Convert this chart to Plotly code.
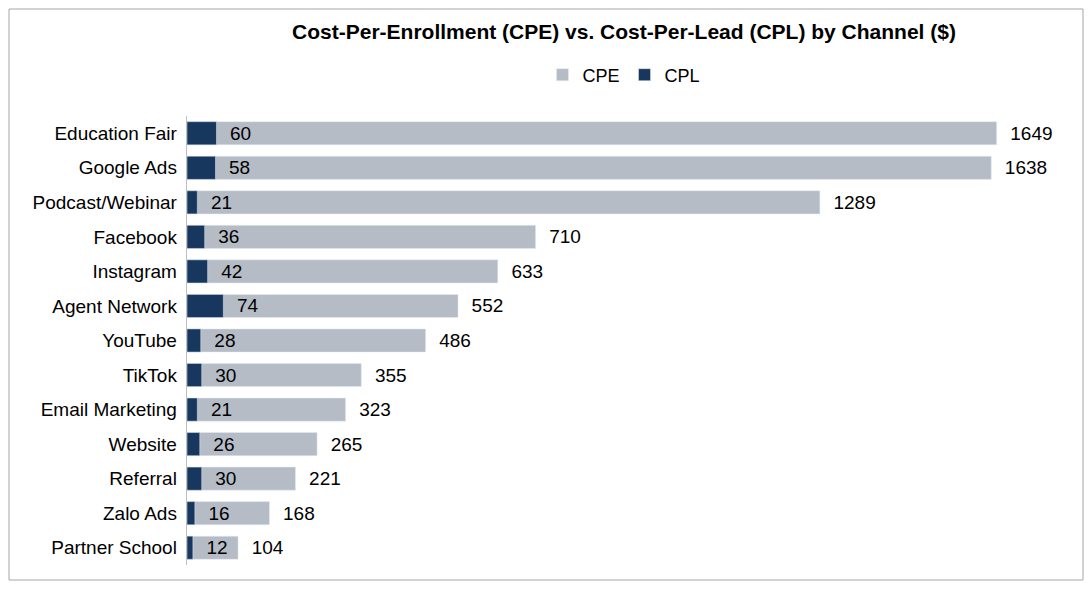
import plotly.graph_objects as go

channels = ["Education Fair", "Google Ads", "Podcast/Webinar", "Facebook", "Instagram",
            "Agent Network", "YouTube", "TikTok", "Email Marketing", "Website",
            "Referral", "Zalo Ads", "Partner School"]
cpe = [1649, 1638, 1289, 710, 633, 552, 486, 355, 323, 265, 221, 168, 104]
cpl = [60, 58, 21, 36, 42, 74, 28, 30, 21, 26, 30, 16, 12]

W, H = 1076, 573
L, R, T, B = 179, 23, 108, 16
pw, ph = W - L - R, H - T - B

fig = go.Figure()
fig.add_trace(go.Bar(y=channels, x=cpe, orientation="h", name="CPE",
                     marker_color="#B6BCC6", texttemplate="  %{x}", textposition="outside",
                     textfont=dict(size=19, color="black"), cliponaxis=False))
fig.add_trace(go.Bar(y=channels, x=cpl, orientation="h", name="CPL",
                     marker_color="#17375E", texttemplate="  %{x}", textposition="outside",
                     textfont=dict(size=19, color="black"), cliponaxis=False))

fig.update_layout(
    width=W, height=H,
    barmode="overlay", bargap=0.33,
    plot_bgcolor="white", paper_bgcolor="white",
    font=dict(family="Liberation Sans, Arial", size=19, color="black"),
    title=dict(text="<b>Cost-Per-Enrollment (CPE) vs. Cost-Per-Lead (CPL) by Channel ($)</b>",
               x=0.5, xref="paper", y=1 - 24 / H, yanchor="middle", font=dict(size=21)),
    legend=dict(orientation="h", x=0.5, xanchor="center", y=1 + 41 / ph, yanchor="middle",
                font=dict(size=18), traceorder="normal", itemwidth=30),
    margin=dict(l=L, r=R, t=T, b=B),
    xaxis=dict(range=[0, 1780], visible=False),
    yaxis=dict(autorange="reversed", showline=True, linecolor="#BFBFBF",
               ticks="", ticksuffix=" ", tickfont=dict(size=19)),
    shapes=[dict(type="rect", xref="paper", yref="paper",
                 x0=-(L - 1) / pw, x1=1 + (R - 1) / pw,
                 y0=-(B - 1) / ph, y1=1 + (T - 1) / ph,
                 line=dict(color="#A6A6A6", width=1))],
)

fig.write_html("out.html")
